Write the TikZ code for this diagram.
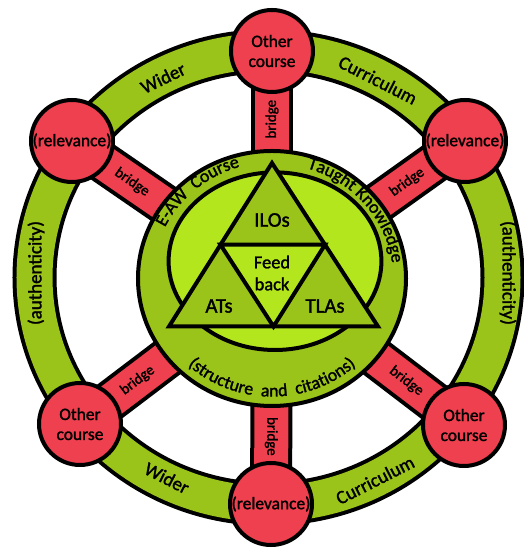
\documentclass[tikz,border=0pt]{standalone}
\usepackage{fontspec}
\setmainfont{Carlito}[FakeBold=1.5]
\usetikzlibrary{calc,shapes.geometric,decorations.text}

\definecolor{ringgreen}{RGB}{155,196,26}
\definecolor{lightgreen}{RGB}{180,230,30}
\definecolor{hubred}{RGB}{238,64,78}

\newcommand{\placefont}{\fontsize{12.4}{14.2}\selectfont}
\newcommand{\bridgefont}{\fontsize{10.6}{12}\selectfont}
\newcommand{\ringfont}{\fontsize{13.5}{15}\selectfont}
\newcommand{\trifont}{\fontsize{14.8}{16}\selectfont}
\newcommand{\feedfont}{\fontsize{13.1}{15.6}\selectfont}
\newcommand{\arcfont}{\fontsize{12.7}{14}\selectfont}

\tikzset{
  ring/.style={line width=1mm, double=ringgreen, double distance=9mm},
  bridgeline/.style={line width=1mm, double=hubred, double distance=8.5mm},
  place/.style={circle, draw, line width=1mm, fill=hubred, minimum size=2.05cm,
    inner sep=0pt, align=center, font=\placefont},
  hubdisk/.style={ellipse, draw, line width=1mm, fill=ringgreen,
    minimum width=6.7cm, minimum height=6.375cm, inner sep=0pt},
  ringtext/.style={font=\ringfont, inner sep=0pt},
  bridgetext/.style={font=\bridgefont, inner sep=0pt},
  tritext/.style={font=\trifont, inner sep=0pt, align=center},
  arctext/.style={decorate, decoration={text along path, text align=center, text={#1}}},
}

\begin{document}
\begin{tikzpicture}
\useasboundingbox (-6.75,-6.775) rectangle (6.325,6.95);

% centres of the hub and the six places
\coordinate (hubc) at (0.05,-0.0125);
\coordinate (ptop) at (0.05,5.675);
\coordinate (pbot) at (0.025,-5.65);
\coordinate (ptl) at (-4.95,3.425);
\coordinate (ptr) at (4.875,3.425);
\coordinate (pbl) at (-4.75,-3.65);
\coordinate (pbr) at (4.85,-3.675);

% outer ring
\draw[ring] (-0.0375,0.0125) ellipse [x radius=5.85, y radius=5.66];

% bridges
\draw[bridgeline] (ptop) -- node[bridgetext, pos=0.3, rotate=90] (btop) {bridge} (hubc);
\draw[bridgeline] (pbot) -- node[bridgetext, pos=0.3, rotate=-90] (bbot) {bridge} (hubc);
\draw[bridgeline] (ptl) -- node[bridgetext, pos=0.3, sloped] (btl) {bridge} (hubc);
\draw[bridgeline] (ptr) -- node[bridgetext, pos=0.3, sloped] (btr) {bridge} (hubc);
\draw[bridgeline] (pbl) -- node[bridgetext, pos=0.3, sloped] (bbl) {bridge} (hubc);
\draw[bridgeline] (pbr) -- node[bridgetext, pos=0.3, sloped] (bbr) {bridge} (hubc);

% hub
\node[hubdisk] (hub) at (hubc) {};
\draw[line width=1mm, fill=lightgreen] (0.125,0.42) ellipse [x radius=2.66, y radius=2.22];

\coordinate (ta) at (0.05,2.875);
\coordinate (tb) at (-2.525,-1.2125);
\coordinate (tc) at (2.7,-1.2125);
\draw[line width=1mm, fill=ringgreen] (ta) -- (tb) -- (tc) -- cycle;
\draw[line width=1mm, fill=lightgreen] ($(ta)!0.5!(tb)$) -- ($(tb)!0.5!(tc)$) -- ($(tc)!0.5!(ta)$) -- cycle;

\node[tritext] (ilos) at (0.05,1.45) {ILOs};
\node[tritext, font=\feedfont] (feed) at (0.05,0.125) {Feed\\back};
\node[tritext] (ats) at (-1.275,-0.7) {ATs};
\node[tritext] (tlas) at (1.375,-0.7) {TLAs};

\path[arctext={|\arcfont|E-AW{\hspace{0.25em}} Course}] (hubc) ++(175:2.98 and 2.9)
  arc[start angle=175, end angle=85, x radius=2.98, y radius=2.9];
\path[arctext={|\arcfont|Taught Knowledge}] (hubc) ++(90:3.03 and 2.88)
  arc[start angle=90, end angle=-10, x radius=3.03, y radius=2.88];
\path[arctext={|\arcfont|(structure{\hspace{0.25em}} and{\hspace{0.25em}} citations)}] (hubc) ++(200:3.1 and 2.95)
  arc[start angle=200, end angle=340, x radius=3.1, y radius=2.95];

% places on the ring
\node[place] (ctop) at (ptop) {Other\\course};
\node[place] (cbot) at (pbot) {(relevance)};
\node[place] (ctl) at (ptl) {(relevance)};
\node[place] (ctr) at (ptr) {(relevance)};
\node[place] (cbl) at (pbl) {Other\\course};
\node[place] (cbr) at (pbr) {Other\\course};

% ring labels
\node[ringtext, rotate=26] (wtl) at (-2.675,5.0) {Wider};
\node[ringtext, rotate=-27] (ctrr) at (2.7,4.95) {Curriculum};
\node[ringtext, rotate=90] (aul) at (-5.85,0.125) {(authenticity)};
\node[ringtext, rotate=-90] (aur) at (5.95,0.125) {(authenticity)};
\node[ringtext, rotate=-27] (wbl) at (-2.575,-5.0) {Wider};
\node[ringtext, rotate=27] (cbrr) at (2.625,-5.05) {Curriculum};
\end{tikzpicture}
\end{document}
